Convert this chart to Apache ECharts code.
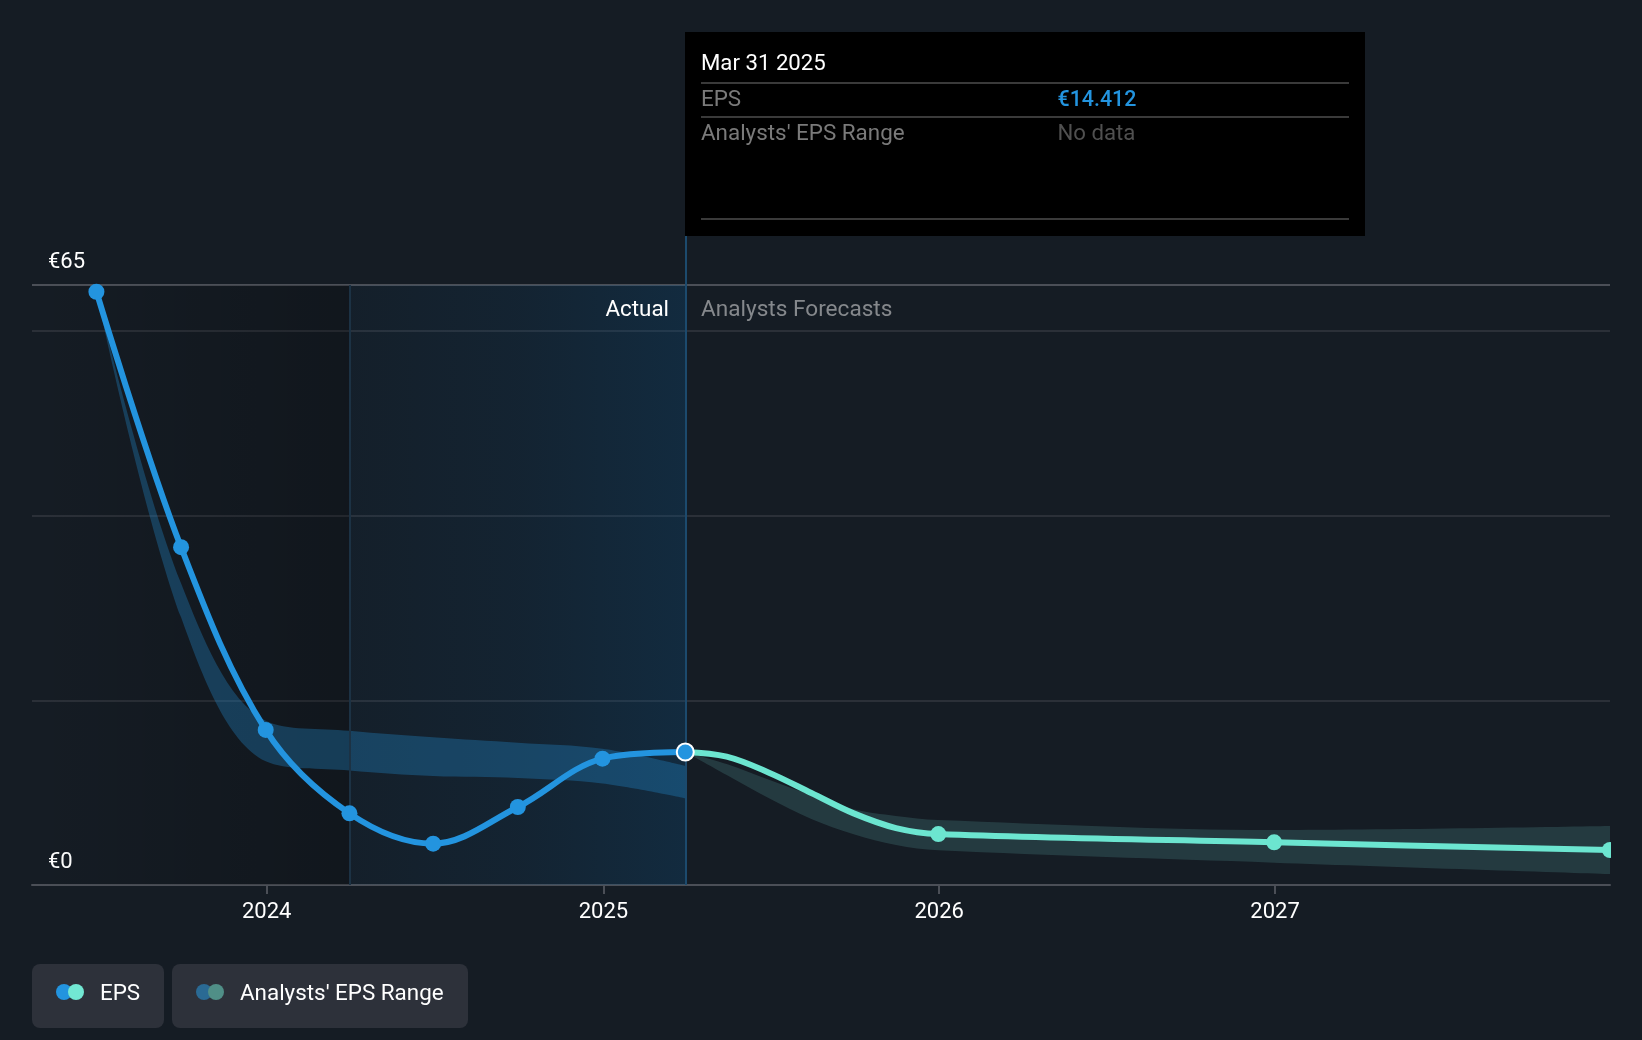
<!DOCTYPE html>
<html>
<head>
<meta charset="utf-8">
<title>EPS</title>
<style>
html, body { margin: 0; padding: 0; background: #151c24; }
#chart { width: 1642px; height: 1040px; }
</style>
</head>
<body>
<div id="chart"></div>
<script src="https://cdn.jsdelivr.net/npm/echarts@6/dist/echarts.min.js"></script>
<script>
// values
var actualDates = ['2023-06-30', '2023-09-30', '2023-12-31', '2024-03-31', '2024-06-30', '2024-09-30', '2024-12-31', '2025-03-31'];
var actualEps = [64.27, 36.6, 16.8, 7.76, 4.48, 8.45, 13.69, 14.412];
var pastLow = [64.27, 29.0, 13.4, 12.4, 11.8, 11.6, 11.0, 9.4];
var pastHigh = [64.27, 32.7, 17.8, 16.7, 16.0, 15.4, 14.75, 12.9];

// only the year ends carry a marker, the dates between just follow the drawn curve
var forecastDates = ['2025-03-31', '2025-05-15', '2025-06-30', '2025-08-15', '2025-09-30', '2025-11-15', '2025-12-31', '2026-12-31', '2027-12-31'];
var forecastEps = [14.412, 13.9, 12.17, 9.97, 7.76, 6.17, 5.52, 4.62, 3.79];
var forecastMarked = [false, false, false, false, false, false, true, true, true];
var forecastLow = [14.412, 11.92, 9.39, 7.15, 5.49, 4.33, 3.76, 2.42, 1.19];
var forecastHigh = [14.412, 13.1, 11.4, 9.75, 8.2, 7.48, 7.04, 5.96, 6.39];

var yearTicks = ['2024-01-01', '2025-01-01', '2026-01-01', '2027-01-01'];
var axisStart = '2023-04-21';
var axisEnd = '2027-12-31';
var actualStart = '2024-03-31';
var today = '2025-03-31';

var bg = '#151c24';
var blue = '#2394df';
var green = '#6ce5d0';
var font = 'Roboto';
var fontSize = 22.4;
var curve = 0.35;

function t(s) { return +echarts.time.parse(s); }
function pairs(dates, vals) {
    return dates.map(function (d, i) { return [t(d), vals[i]]; });
}
function diffs(dates, hi, lo) {
    return dates.map(function (d, i) { return [t(d), +(hi[i] - lo[i]).toFixed(3)]; });
}
function grad(stops) {
    return {
        type: 'linear', x: 0, y: 0, x2: 1, y2: 0,
        colorStops: stops.map(function (c, i) { return { offset: i / (stops.length - 1), color: c }; })
    };
}
function txt(x, y, s, color, align, weight, size) {
    return {
        type: 'text', z: 50,
        style: {
            x: x, y: y, text: s, fill: color,
            font: (weight || '400') + ' ' + (size || fontSize) + 'px ' + font,
            align: align || 'left', verticalAlign: 'middle'
        }
    };
}
function hline(x1, x2, y, color) {
    return { type: 'line', z: 50, shape: { x1: x1, y1: y, x2: x2, y2: y }, style: { stroke: color, lineWidth: 2 } };
}
function dot(cx, cy, color) {
    return { type: 'circle', z: 51, shape: { cx: cx, cy: cy, r: 8 }, style: { fill: color } };
}

var chart = echarts.init(document.getElementById('chart'));

var option = {
    backgroundColor: bg,
    animation: false,
    textStyle: { fontFamily: font },
    grid: { left: 32, right: 32, top: 285, bottom: 155 },
    xAxis: [
        // series sit on the time axis (stacking needs it), it stays hidden
        { type: 'time', show: false, position: 'bottom', min: t(axisStart), max: t(axisEnd) },
        // this one only draws the year ticks
        {
            type: 'value',
            position: 'bottom',
            min: t(axisStart),
            max: t(axisEnd),
            axisLine: { show: true, onZero: false, lineStyle: { color: '#4b4f57', width: 2 } },
            axisTick: { show: true, length: 9, lineStyle: { color: '#4b4f57', width: 2 }, customValues: yearTicks.map(t) },
            axisLabel: {
                color: '#fff', fontSize: 22, margin: 16, fontFamily: font,
                customValues: yearTicks.map(t),
                formatter: function (v) { return String(new Date(v).getFullYear()); }
            },
            splitLine: { show: false }
        }
    ],
    yAxis: {
        type: 'value',
        min: 0,
        max: 65,
        interval: 20,
        axisLine: { show: false },
        axisTick: { show: false },
        axisLabel: {
            inside: true, color: '#fff', fontSize: 22, margin: 16, fontFamily: font,
            align: 'left', verticalAlign: 'bottom', padding: [0, 0, 12, 0],
            formatter: function (v) { return (v === 0 || v === 65) ? '€' + v : ''; }
        },
        splitLine: { show: true, lineStyle: { color: ['#4b4f57', '#2b3038', '#2b3038', '#2b3038', '#4b4f57'], width: 2 } }
    },
    series: [
        {
            // shaded zones and the two vertical rules hang off this invisible base
            type: 'line', stack: 'past', smooth: curve, symbol: 'none',
            lineStyle: { width: 0 },
            data: pairs(actualDates, pastLow),
            markArea: {
                silent: true,
                data: [
                    [{ xAxis: t(axisStart), itemStyle: { color: grad(['rgba(0,0,0,0)', 'rgba(0,0,0,0.2)']) } }, { xAxis: t(actualStart) }],
                    [{ xAxis: t(actualStart), itemStyle: { color: grad(['rgba(10,85,140,0.06)', 'rgba(10,85,140,0.13)', 'rgba(10,85,140,0.26)']) } }, { xAxis: t(today) }]
                ]
            },
            markLine: {
                silent: true, symbol: 'none', label: { show: false },
                data: [
                    [{ xAxis: t(actualStart), yAxis: 0, lineStyle: { color: '#1c3244', width: 2, type: 'solid' } }, { xAxis: t(actualStart), yAxis: 65 }],
                    [{ xAxis: t(today), yAxis: 0, lineStyle: { color: '#1c4a6d', width: 2, type: 'solid' } }, { xAxis: t(today), yAxis: 65, y: 236 }]
                ]
            }
        },
        {
            type: 'line', stack: 'past', smooth: curve, symbol: 'none',
            lineStyle: { width: 0 },
            areaStyle: { color: 'rgba(35,148,223,0.3)', opacity: 1 },
            data: diffs(actualDates, pastHigh, pastLow)
        },
        {
            type: 'line', stack: 'next', smooth: curve, symbol: 'none',
            lineStyle: { width: 0 },
            data: pairs(forecastDates, forecastLow)
        },
        {
            type: 'line', stack: 'next', smooth: curve, symbol: 'none',
            lineStyle: { width: 0 },
            areaStyle: { color: 'rgba(120,215,210,0.16)', opacity: 1 },
            data: diffs(forecastDates, forecastHigh, forecastLow)
        },
        {
            name: 'EPS forecast', type: 'line', smooth: curve, z: 5,
            symbol: 'circle', symbolSize: 16, showAllSymbol: true,
            lineStyle: { color: green, width: 6 },
            itemStyle: { color: green },
            data: forecastDates.map(function (d, i) {
                return { value: [t(d), forecastEps[i]], symbol: forecastMarked[i] ? 'circle' : 'none' };
            })
        },
        {
            name: 'EPS', type: 'line', smooth: curve, z: 6,
            symbol: 'circle', symbolSize: 16, showAllSymbol: true,
            lineStyle: { color: blue, width: 6 },
            itemStyle: { color: blue },
            data: actualDates.map(function (d, i) {
                var item = { value: [t(d), actualEps[i]] };
                if (d === today) {
                    item.symbolSize = 17;
                    item.itemStyle = { color: blue, borderColor: '#fff', borderWidth: 2 };
                }
                return item;
            })
        }
    ],
    graphic: [
        // chart is cut off at the right edge, marker included
        { type: 'rect', z: 40, shape: { x: 1611, y: 286, width: 31, height: 598 }, style: { fill: bg } },

        // readout box
        { type: 'rect', z: 49, shape: { x: 685, y: 32, width: 680, height: 204 }, style: { fill: '#000' } },
        txt(701, 64, 'Mar 31 2025', '#fff', 'left', '400', 22.2),
        hline(701, 1349, 83, '#3a3a3a'),
        txt(701, 100, 'EPS', '#7a7a7a'),
        txt(1057.5, 101, '€14.412', blue, 'left', '500', 21.4),
        hline(701, 1349, 117, '#3a3a3a'),
        txt(701, 134, "Analysts' EPS Range", '#7a7a7a'),
        txt(1057.5, 134, 'No data', '#505050', 'left', '400', 22.2),
        hline(701, 1349, 219, '#3a3a3a'),

        // zone captions
        txt(669, 310, 'Actual', '#fff', 'right'),
        txt(701, 310, 'Analysts Forecasts', '#85888c', 'left', '400', 22.6),

        // legend
        { type: 'rect', z: 49, shape: { x: 32, y: 964, width: 132, height: 64, r: 8 }, style: { fill: '#2d313a' } },
        dot(64, 992, blue), dot(76, 992, '#72e8d3'),
        txt(100, 994, 'EPS', '#fff'),
        { type: 'rect', z: 49, shape: { x: 172, y: 964, width: 296, height: 64, r: 8 }, style: { fill: '#2d313a' } },
        dot(204, 992, '#2a6a94'), dot(216, 992, '#508f87'),
        txt(240, 994, "Analysts' EPS Range", '#fff')
    ]
};

chart.setOption(option);
</script>
</body>
</html>
